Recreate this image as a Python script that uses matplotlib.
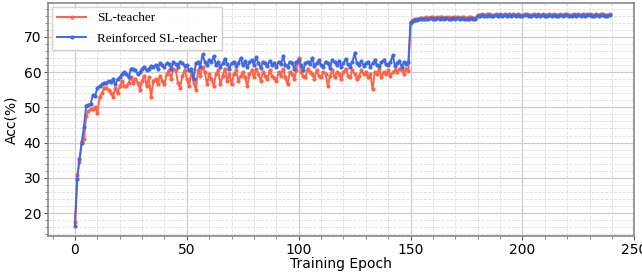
import numpy as np
import matplotlib
matplotlib.use("Agg")
import matplotlib.pyplot as plt
from matplotlib.ticker import MultipleLocator

# accuracy per epoch
sl_teacher = [
    17.5, 30.7, 34.5, 40.5, 41.0, 47.5, 49.0, 49.5, 49.5, 50.0,
    48.5, 53.0, 54.0, 55.5, 55.5, 55.0, 54.0, 53.0, 55.5, 54.0,
    56.0, 57.5, 56.0, 56.0, 57.0, 58.5, 57.0, 58.0, 57.0, 55.0,
    57.5, 59.0, 56.0, 58.5, 52.8, 57.5, 58.0, 56.5, 59.0, 57.5,
    56.5, 59.5, 60.5, 58.0, 61.0, 60.5, 57.0, 55.5, 59.0, 60.5,
    58.0, 56.0, 60.0, 57.0, 55.0, 60.5, 59.0, 61.5, 60.0, 56.5,
    59.5, 58.0, 56.0, 59.5, 60.5, 56.5, 59.0, 61.0, 57.5, 59.5,
    56.5, 59.5, 60.5, 57.5, 59.0, 60.0, 58.5, 56.0, 59.5, 60.5,
    58.5, 61.0, 59.5, 57.5, 60.0, 59.0, 58.0, 60.5, 59.0, 58.2,
    57.5, 60.0, 59.0, 61.0, 58.5, 56.5, 60.0, 59.5, 58.0, 60.5,
    64.0, 60.0, 59.0, 58.5, 61.0, 60.0, 59.5, 58.0, 60.5, 59.0,
    58.5, 60.0, 59.5, 56.0, 59.0, 60.5, 58.5, 60.0, 59.5, 58.0,
    60.0, 61.0, 59.0, 58.5, 60.5, 59.5, 58.0, 59.0, 60.5, 59.5,
    60.0, 58.5, 59.5, 55.2, 60.0, 59.5, 61.0, 58.5, 60.0, 59.5,
    60.5, 59.0, 60.0, 60.5, 60.0, 61.0, 60.5, 59.5, 61.0, 60.2,
    74.0, 74.8, 75.0, 75.2, 75.3, 75.4, 75.3, 75.5, 75.4, 75.6,
    75.5, 75.3, 75.6, 75.5, 75.7, 75.4, 75.6, 75.5, 75.3, 75.6,
    75.5, 75.7, 75.4, 75.6, 75.5, 75.4, 75.5, 75.6, 75.4, 75.3,
    76.2, 76.3, 76.4, 76.2, 76.4, 76.5, 76.3, 76.2, 76.4, 76.3,
    76.5, 76.2, 76.4, 76.3, 76.5, 76.2, 76.4, 76.3, 76.4, 76.3,
    76.2, 76.5, 76.4, 76.3, 76.2, 76.4, 76.3, 76.5, 76.3, 76.4,
    76.3, 76.2, 76.4, 76.3, 76.5, 76.3, 76.2, 76.4, 76.3, 76.5,
    76.4, 76.2, 76.3, 76.4, 76.3, 76.5, 76.2, 76.4, 76.3, 76.4,
    76.5, 76.3, 76.2, 76.4, 76.3, 76.5, 76.4, 76.2, 76.3, 76.4,
]

reinforced = [
    16.3, 29.7, 35.3, 40.0, 44.5, 50.5, 50.7, 51.0, 53.5, 53.3,
    55.5, 56.0, 56.5, 57.0, 57.0, 57.5, 57.2, 58.0, 56.5, 58.0,
    58.5, 59.5, 60.0, 59.5, 58.5, 61.0, 61.0, 60.5, 59.5, 60.0,
    61.0, 61.5, 60.5, 61.0, 61.8, 61.5, 62.0, 61.0, 62.5, 62.0,
    61.5, 62.5, 62.2, 61.0, 62.8, 62.3, 61.5, 63.0, 62.5, 61.8,
    62.0, 60.5, 61.0, 58.0, 62.5, 63.0, 61.5, 65.0, 63.0, 62.0,
    63.5, 62.8, 64.5, 62.0, 63.0, 61.5, 62.5, 63.8, 62.2, 61.0,
    62.5, 63.0, 61.8, 62.5, 64.0, 62.0, 63.2, 61.5, 62.8, 63.5,
    62.0, 64.3, 62.5, 61.2, 63.0, 62.5, 61.8, 63.2, 62.0, 62.7,
    61.5, 63.0, 62.2, 64.5, 62.0, 61.5, 63.0, 62.5, 61.0, 62.8,
    63.5, 62.0, 60.5, 62.5, 63.0, 62.2, 64.0, 61.8, 62.5, 63.3,
    62.0, 61.5, 63.0, 62.5, 61.2, 63.5, 62.8, 62.0, 63.2, 61.5,
    62.5, 63.8, 62.2, 61.5, 63.0, 65.3, 62.5, 62.0, 63.2, 61.8,
    62.5, 63.0, 61.5, 62.5, 63.5, 62.0, 61.8, 62.8, 63.5, 62.2,
    62.0, 62.8, 64.8, 61.8, 62.5, 63.2, 61.5, 62.8, 62.3, 63.0,
    74.2, 74.6, 74.8, 74.9, 75.0, 75.1, 75.0, 75.2, 75.1, 75.3,
    75.2, 75.1, 75.3, 75.2, 75.4, 75.1, 75.3, 75.2, 75.0, 75.3,
    75.2, 75.4, 75.1, 75.3, 75.2, 75.0, 75.2, 75.3, 75.1, 75.0,
    75.9, 76.0, 76.1, 75.9, 76.0, 76.2, 76.0, 75.9, 76.1, 76.0,
    76.2, 75.9, 76.1, 76.0, 76.1, 75.9, 76.2, 76.0, 76.1, 76.0,
    75.9, 76.1, 76.2, 76.0, 75.9, 76.1, 76.0, 76.2, 76.0, 76.1,
    76.0, 75.9, 76.1, 76.0, 76.2, 76.0, 75.9, 76.1, 76.0, 76.2,
    76.1, 75.9, 76.0, 76.1, 76.0, 76.2, 75.9, 76.1, 76.0, 76.1,
    76.2, 76.0, 75.9, 76.1, 76.0, 76.2, 76.1, 75.9, 76.0, 76.1,
]

epochs = np.arange(len(sl_teacher))

fig = plt.figure(figsize=(6.42, 2.75), dpi=100)
ax = fig.add_axes([0.075, 0.142, 0.913, 0.847])

ax.plot(epochs, sl_teacher, color='#FF6347', marker='o', markersize=2, linewidth=1.4, label='SL-teacher')
ax.plot(epochs, reinforced, color='#4169E1', marker='o', markersize=2, linewidth=1.4, label='Reinforced SL-teacher')

ax.set_xlim(-12, 250)
ax.set_ylim(13.5, 79.6)
ax.xaxis.set_major_locator(MultipleLocator(50))
ax.xaxis.set_minor_locator(MultipleLocator(10))
ax.yaxis.set_major_locator(MultipleLocator(10))
ax.yaxis.set_minor_locator(MultipleLocator(2))

ax.grid(which='major', color='#cccccc', linestyle='-', linewidth=0.9)
ax.grid(which='minor', color='#dddddd', linestyle='--', linewidth=0.6)
ax.set_axisbelow(True)

for s in ax.spines.values():
    s.set_color('#888888')
    s.set_linewidth(1.2)
ax.tick_params(which='major', labelsize=10, color='#555555', length=3, pad=2)
ax.tick_params(which='minor', color='#777777', length=2)

ax.set_xlabel('Training Epoch', fontsize=10, labelpad=0)
ax.set_ylabel('Acc(%)', fontsize=10, labelpad=4)

leg = ax.legend(loc='upper left', prop={'family': 'Liberation Serif', 'size': 9.5},
                fancybox=False, framealpha=0.9, edgecolor='#cccccc',
                handlelength=2.2, labelspacing=0.6, borderaxespad=0.3)

plt.savefig('out.png', dpi=100)
